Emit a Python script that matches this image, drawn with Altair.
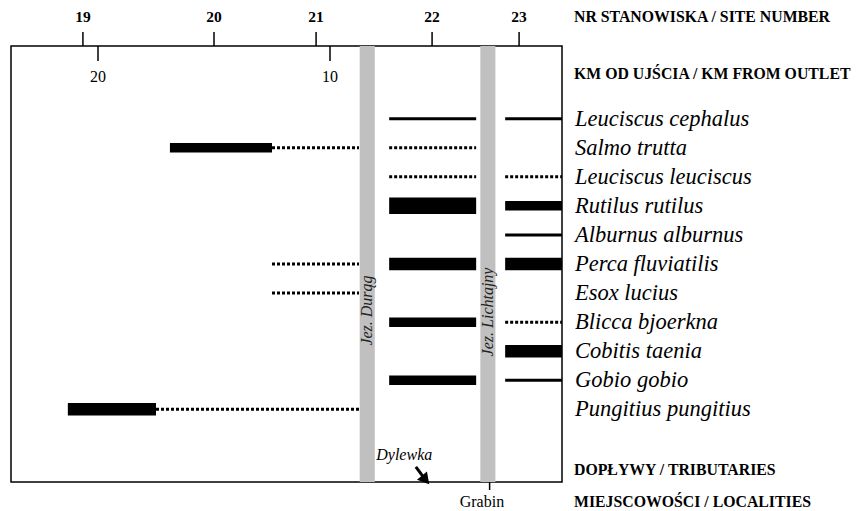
import altair as alt
import pandas as pd

# ---------------- data ----------------
species = ["Leuciscus cephalus", "Salmo trutta", "Leuciscus leuciscus", "Rutilus rutilus",
           "Alburnus alburnus", "Perca fluviatilis", "Esox lucius", "Blicca bjoerkna",
           "Cobitis taenia", "Gobio gobio", "Pungitius pungitius"]
species_row = list(range(len(species)))

# occurrence segments along the river (km from outlet); class 0 = dotted (sporadic),
# 1..4 = increasing abundance (line thickness)
seg_species = ["Leuciscus cephalus", "Leuciscus cephalus",
               "Salmo trutta", "Salmo trutta", "Salmo trutta",
               "Leuciscus leuciscus", "Leuciscus leuciscus",
               "Rutilus rutilus", "Rutilus rutilus",
               "Alburnus alburnus",
               "Perca fluviatilis", "Perca fluviatilis", "Perca fluviatilis",
               "Esox lucius",
               "Blicca bjoerkna", "Blicca bjoerkna",
               "Cobitis taenia",
               "Gobio gobio", "Gobio gobio",
               "Pungitius pungitius", "Pungitius pungitius"]
seg_start = [7.45, 2.45,
             16.9, 12.5, 7.45,
             7.45, 2.45,
             7.45, 2.45,
             2.45,
             12.5, 7.45, 2.45,
             12.5,
             7.45, 2.45,
             2.45,
             7.45, 2.45,
             21.3, 17.5]
seg_end = [3.7, 0.0,
           12.5, 8.75, 3.7,
           3.7, 0.0,
           3.7, 0.0,
           0.0,
           8.75, 3.7, 0.0,
           8.75,
           3.7, 0.0,
           0.0,
           3.7, 0.0,
           17.5, 8.75]
seg_class = [1, 1,
             2, 0, 0,
             0, 0,
             4, 2,
             1,
             0, 3, 3,
             0,
             2, 0,
             3,
             2, 1,
             3, 0]

lake_names = ["Jez. Durąg", "Jez. Lichtajny"]
lake_start = [8.72, 3.52]
lake_end = [8.07, 2.87]
lake_label_row = [6.6, 6.65]

site_numbers = ["19", "20", "21", "22", "23"]
site_km = [20.65, 15.0, 10.6, 5.6, 1.85]

km_ticks = [20, 10]

header_labels = ["NR STANOWISKA / SITE NUMBER", "KM OD UJŚCIA / KM FROM OUTLET",
                 "DOPŁYWY / TRIBUTARIES", "MIEJSCOWOŚCI / LOCALITIES"]
header_rows = [-3.5, -1.55, 12.08, 13.2]

tributary_name = ["Dylewka"]
tributary_label_km = [6.8]
tributary_label_row = [11.57]
arrow_from_km, arrow_to_km = [6.3], [5.88]
arrow_from_row, arrow_to_row = [11.98], [12.43]

locality_name = ["Grabin"]
locality_km = [3.12]
locality_label_km = [3.45]

# ---------------- styling (not data) ----------------
W, H = 551, 436
FONT = "Liberation Serif"
CLASS_WIDTH = {1: 3, 2: 9.5, 3: 12.5, 4: 16.5}

species_df = pd.DataFrame({"species": species, "row": species_row})
seg_df = pd.DataFrame({"species": seg_species, "start": seg_start, "end": seg_end, "cls": seg_class})
seg_df["row"] = seg_df["species"].map(dict(zip(species, species_row)))
seg_df["w"] = seg_df["cls"].map(CLASS_WIDTH).fillna(3)
lake_df = pd.DataFrame({"name": lake_names, "start": lake_start, "end": lake_end, "row": lake_label_row})
lake_df["mid"] = (lake_df["start"] + lake_df["end"]) / 2
site_df = pd.DataFrame({"label": site_numbers, "km": site_km})
km_df = pd.DataFrame({"km": km_ticks, "label": [str(k) for k in km_ticks]})
header_df = pd.DataFrame({"label": header_labels, "row": header_rows})
trib_df = pd.DataFrame({"name": tributary_name, "km": tributary_label_km, "row": tributary_label_row,
                        "x0": arrow_from_km, "x1": arrow_to_km, "y0": arrow_from_row, "y1": arrow_to_row})
loc_df = pd.DataFrame({"name": locality_name, "km": locality_km, "lkm": locality_label_km})

xs = alt.Scale(domain=[23.75, 0], nice=False, zero=False)
ys = alt.Scale(domain=[-2.5, 12.5], reverse=True, nice=False, zero=False)


def X(f):
    return alt.X(f, scale=xs, axis=None)


def Y(f):
    return alt.Y(f, scale=ys, axis=None)


lakes = alt.Chart(lake_df).mark_rect(color="#c0c0c0").encode(
    x=X("start:Q"), x2="end:Q", y=alt.Y(datum=-2.5, scale=ys, axis=None), y2=alt.datum(12.5)
)
lake_text = alt.Chart(lake_df).mark_text(
    font=FONT, fontSize=16, fontStyle="italic", angle=270, color="#222222", baseline="middle"
).encode(x=X("mid:Q"), y=Y("row:Q"), text="name:N")

solid = alt.Chart(seg_df).transform_filter("datum.cls > 0").mark_rule(color="black", strokeCap="butt").encode(
    x=X("start:Q"), x2="end:Q", y=Y("row:Q"),
    size=alt.Size("w:Q", scale=None, legend=None),
)
dotted = alt.Chart(seg_df).transform_filter("datum.cls == 0").mark_rule(
    color="black", strokeCap="butt", strokeWidth=3, strokeDash=[3, 2]
).encode(x=X("start:Q"), x2="end:Q", y=Y("row:Q"))

species_text = alt.Chart(species_df).mark_text(
    font=FONT, fontSize=22.5, fontStyle="italic", align="left", baseline="middle"
).encode(x=alt.value(W + 13), y=Y("row:Q"), text="species:N")

header_text = alt.Chart(header_df).mark_text(
    font=FONT, fontSize=15.8, fontWeight="bold", align="left", baseline="middle"
).encode(x=alt.value(W + 12), y=Y("row:Q"), text="label:N")

site_ticks = alt.Chart(site_df).mark_rule(color="black", strokeWidth=1.5).encode(
    x=X("km:Q"), y=alt.value(-14), y2=alt.value(0)
)
site_text = alt.Chart(site_df).mark_text(
    font=FONT, fontSize=15.5, fontWeight="bold", baseline="middle"
).encode(x=X("km:Q"), y=alt.Y(datum=-3.5, scale=ys, axis=None), text="label:N")

km_tick_marks = alt.Chart(km_df).mark_rule(color="black", strokeWidth=1.5).encode(
    x=X("km:Q"), y=alt.value(0), y2=alt.value(15)
)
km_text = alt.Chart(km_df).mark_text(font=FONT, fontSize=16, baseline="middle").encode(
    x=X("km:Q"), y=alt.Y(datum=-1.45, scale=ys, axis=None), text="label:N"
)

trib_text = alt.Chart(trib_df).mark_text(font=FONT, fontSize=16, fontStyle="italic", baseline="middle").encode(
    x=X("km:Q"), y=Y("row:Q"), text="name:N"
)
trib_arrow = alt.Chart(trib_df).mark_rule(color="black", strokeWidth=3).encode(
    x=X("x0:Q"), x2="x1:Q", y=Y("y0:Q"), y2="y1:Q"
)
trib_head = alt.Chart(trib_df).mark_point(
    shape="triangle-right", filled=True, color="black", size=170, angle=50, opacity=1
).encode(x=X("x1:Q"), y=Y("y1:Q"))

loc_tick = alt.Chart(loc_df).mark_rule(color="black", strokeWidth=1.5).encode(
    x=X("km:Q"), y=alt.value(H), y2=alt.value(H + 8)
)
loc_text = alt.Chart(loc_df).mark_text(font=FONT, fontSize=16, baseline="middle").encode(
    x=X("lkm:Q"), y=alt.Y(datum=13.2, scale=ys, axis=None), text="name:N"
)

chart = alt.layer(
    lakes, lake_text, solid, dotted, species_text, header_text,
    site_ticks, site_text, km_tick_marks, km_text,
    trib_text, trib_arrow, trib_head, loc_tick, loc_text,
).properties(
    width=W, height=H,
    autosize=alt.AutoSizeParams(type="none"),
    padding={"left": 3, "top": 38, "right": 290, "bottom": 29},
    background="white",
).configure_view(stroke="black", strokeWidth=1.5)

chart.save("out.html", embed_options={"renderer": "svg", "actions": False})
